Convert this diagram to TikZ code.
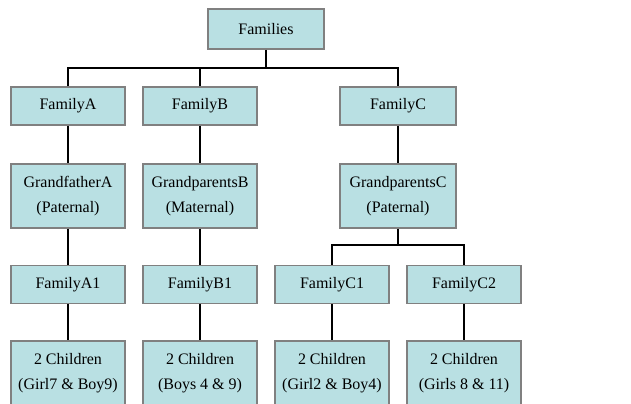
\documentclass[tikz,border=0pt]{standalone}
\usepackage{fontspec}
\setmainfont{Liberation Serif}
\definecolor{boxfill}{RGB}{185,224,227}
\definecolor{boxline}{RGB}{128,128,128}
\tikzset{
  famnode/.style={draw=boxline, line width=1.3pt, fill=boxfill, inner sep=0pt, align=center,
    font=\fontsize{12}{18.75}\selectfont, minimum width=85.5pt},
  oneline/.style={famnode, minimum height=28.5pt},
  twoline/.style={famnode, minimum height=48pt},
  conn/.style={draw=black, line width=1.2pt}
}
\begin{document}
\begin{tikzpicture}[x=0.75pt,y=-0.75pt]
\useasboundingbox (0,0) rectangle (631,403);
\clip (0,0) rectangle (631,403);
\fill[white] (0,0) rectangle (631,403);
% nodes
\node[oneline, minimum width=87pt, minimum height=30pt] (fam) at (266,29) {Families};
\node[oneline] (fa) at (68,106) {FamilyA};
\node[oneline] (fb) at (200,106) {FamilyB};
\node[oneline, minimum width=87pt] (fc) at (398,106) {FamilyC};
\node[twoline] (ga) at (68,196) {GrandfatherA\\(Paternal)};
\node[twoline] (gb) at (200,196) {GrandparentsB\\(Maternal)};
\node[twoline, minimum width=87pt] (gc) at (398,196) {GrandparentsC\\(Paternal)};
\node[oneline] (fa1) at (68,284.5) {FamilyA1};
\node[oneline] (fb1) at (200,284.5) {FamilyB1};
\node[oneline] (fc1) at (332,284.5) {FamilyC1};
\node[oneline] (fc2) at (464,284.5) {FamilyC2};
\node[twoline] (ca1) at (68,373) {2 Children\\(Girl7 \& Boy9)};
\node[twoline] (cb1) at (200,373) {2 Children\\(Boys 4 \& 9)};
\node[twoline] (cc1) at (332,373) {2 Children\\(Girl2 \& Boy4)};
\node[twoline] (cc2) at (464,373) {2 Children\\(Girls 8 \& 11)};
% connectors
\coordinate (bus1) at (266,68);
\coordinate (bus2) at (398,245);
\draw[conn] (fam.south) -- (bus1);
\draw[conn] (fa.north) |- (bus1) -| (fc.north);
\draw[conn] (fb.north) -- (fb.north |- bus1);
\draw[conn] (fa.south) -- (ga.north);
\draw[conn] (fb.south) -- (gb.north);
\draw[conn] (fc.south) -- (gc.north);
\draw[conn] (ga.south) -- (fa1.north);
\draw[conn] (gb.south) -- (fb1.north);
\draw[conn] (gc.south) -- (bus2);
\draw[conn] (fc1.north) |- (bus2) -| (fc2.north);
\draw[conn] (fa1.south) -- (ca1.north);
\draw[conn] (fb1.south) -- (cb1.north);
\draw[conn] (fc1.south) -- (cc1.north);
\draw[conn] (fc2.south) -- (cc2.north);
\end{tikzpicture}
\end{document}
